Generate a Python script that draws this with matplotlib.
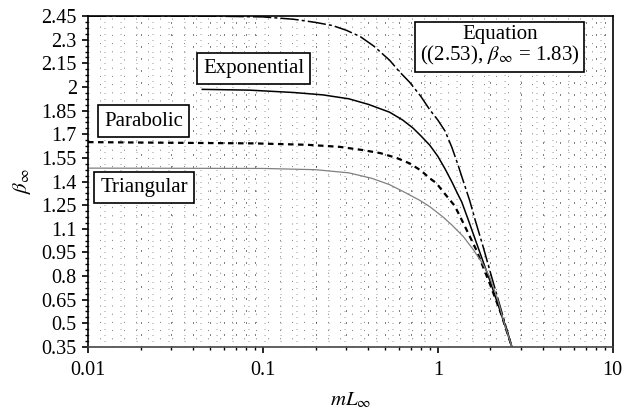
import numpy as np
import matplotlib
matplotlib.use("Agg")
import matplotlib.pyplot as plt
from matplotlib.ticker import FixedLocator, NullFormatter

plt.rcParams["font.family"] = ["Liberation Serif", "DejaVu Serif"]
plt.rcParams["mathtext.fontset"] = "stix"

# curves (x = mL_inf, y = beta_inf)
eq_x = [0.01, 0.05, 0.1, 0.15, 0.2, 0.25, 0.3, 0.36, 0.43, 0.53, 0.6, 0.69, 0.8, 0.9,
        1.0, 1.1, 1.2, 1.3, 1.4, 1.52, 1.65, 1.8, 2.0, 2.2, 2.4, 2.65]
eq_y = [2.45, 2.45, 2.445, 2.43, 2.41, 2.39, 2.36, 2.32, 2.26, 2.17, 2.10, 2.03, 1.94, 1.855,
        1.79, 1.72, 1.62, 1.51, 1.40, 1.28, 1.14, 1.0, 0.82, 0.66, 0.515, 0.35]

exp_x = [0.045, 0.084, 0.15, 0.22, 0.31, 0.4, 0.53, 0.63, 0.72, 0.8, 0.9, 1.0, 1.1, 1.2,
         1.3, 1.37, 1.5, 1.7, 2.0, 2.3, 2.65]
exp_y = [1.985, 1.98, 1.965, 1.95, 1.925, 1.89, 1.84, 1.79, 1.74, 1.69, 1.63, 1.56, 1.48, 1.40,
         1.32, 1.27, 1.15, 0.98, 0.76, 0.56, 0.35]

par_x = [0.01, 0.09, 0.18, 0.275, 0.37, 0.47, 0.58, 0.69, 0.8, 0.9, 0.98, 1.1, 1.25, 1.4,
         1.66, 2.0, 2.3, 2.65]
par_y = [1.65, 1.642, 1.633, 1.62, 1.60, 1.58, 1.55, 1.515, 1.47, 1.42, 1.39, 1.32, 1.245, 1.135,
         0.965, 0.74, 0.56, 0.35]

tri_x = [0.01, 0.1, 0.2, 0.31, 0.42, 0.53, 0.65, 0.79, 0.9, 1.07, 1.2, 1.4, 1.6, 1.8, 1.98,
         2.2, 2.4, 2.65]
tri_y = [1.485, 1.483, 1.475, 1.455, 1.42, 1.38, 1.33, 1.28, 1.24, 1.175, 1.125, 1.05, 0.965,
         0.88, 0.795, 0.65, 0.50, 0.35]

y_ticks = [0.35, 0.5, 0.65, 0.8, 0.95, 1.1, 1.25, 1.4, 1.55, 1.7, 1.85, 2.0, 2.15, 2.3, 2.45]
y_labels = ["0.35", "0.5", "0.65", "0.8", "0.95", "1.1", "1.25", "1.4", "1.55", "1.7",
            "1.85", "2", "2.15", "2.3", "2.45"]
x_ticks = [0.01, 0.1, 1, 10]
x_labels = ["0.01", "0.1", "1", "10"]

fig = plt.figure(figsize=(6.24, 4.13), dpi=100)
ax = fig.add_axes([0.141, 0.160, 0.841, 0.801])
ax.set_xscale("log")
ax.set_xlim(0.01, 10)
ax.set_ylim(0.35, 2.45)

# background dot grid
for lx in np.arange(-2, 1, 12 / 175)[1:]:
    ax.axvline(10 ** lx, color="#808080", lw=0.72, ls=(0, (1, 7.2)), zorder=0)
for yy in np.arange(0.35, 2.45, 0.0375)[1:]:
    ax.axhline(yy, color="#999999", lw=0.72, ls=(0, (1, 15)), zorder=0)
for dec in [0.01, 0.1, 1]:
    for m in range(2, 10):
        ax.axvline(dec * m, color="black", lw=0.72, ls=(0, (1, 11)), zorder=0)

ax.plot(eq_x, eq_y, color="black", lw=1.1, ls=(0, (12, 2, 2, 2)))
ax.plot(exp_x, exp_y, color="black", lw=1.1, ls="-")
ax.plot(par_x, par_y, color="black", lw=1.6, ls=(0, (2.5, 2)))
ax.plot(tri_x, tri_y, color="#808080", lw=0.9, ls="-")

ax.set_xticks(x_ticks)
ax.set_xticklabels(x_labels)
ax.xaxis.set_minor_locator(FixedLocator([d * m for d in [0.01, 0.1, 1] for m in range(2, 10)]))
ax.xaxis.set_minor_formatter(NullFormatter())
ax.set_yticks(y_ticks)
ax.set_yticklabels(y_labels)
ax.yaxis.set_minor_locator(FixedLocator(np.arange(0.35, 2.46, 0.0375)))
ax.tick_params(axis="both", which="major", direction="out", length=4, width=1.2, labelsize=14.5, pad=4)
ax.tick_params(axis="both", which="minor", direction="out", length=2.5, width=1.0)
ax.tick_params(axis="x", which="major", pad=6)

for sp in ax.spines.values():
    sp.set_linewidth(1.2)
ax.spines["bottom"].set_color("#444444")

ax.set_xlabel(r"$mL_\infty$", fontsize=15, labelpad=8)
ax.set_ylabel(r"$\beta_\infty$", fontsize=15, labelpad=6)

box = dict(boxstyle="square,pad=0.3", fc="white", ec="black", lw=1.2)
ax.text(0.0883, 2.117, "Exponential", fontsize=15, ha="center", va="center", bbox=box)
ax.text(0.02075, 1.784, "Parabolic", fontsize=15, ha="center", va="center", bbox=box)
ax.text(0.0209, 1.362, "Triangular", fontsize=15, ha="center", va="center", bbox=box)
ax.text(2.26, 2.26, "Equation\n((2.53), $\\beta_\\infty$ = 1.83)", fontsize=15,
        ha="center", va="center", multialignment="center", linespacing=1.0,
        bbox=dict(boxstyle="square,pad=0.22", fc="white", ec="black", lw=1.2))

fig.savefig("out.png", dpi=100)
